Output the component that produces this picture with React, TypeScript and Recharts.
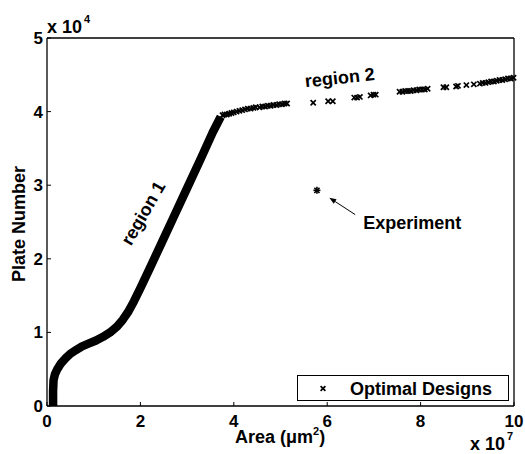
import React from 'react';
import { ComposedChart, Line, Scatter, XAxis, YAxis, ReferenceLine, ReferenceDot, Legend } from 'recharts';

// region 1: dense optimal designs, drawn as a thick band
const curveX = [0.13, 0.13, 0.14, 0.17, 0.22, 0.3, 0.4, 0.5, 0.62, 0.75, 0.9, 1.05, 1.2, 1.35, 1.5, 1.62, 1.74, 1.86, 2.0, 2.2, 2.45, 2.7, 3.0, 3.3, 3.55, 3.72];
const curveY = [0.0, 0.2, 0.35, 0.43, 0.5, 0.58, 0.65, 0.71, 0.76, 0.81, 0.85, 0.89, 0.94, 1.0, 1.08, 1.17, 1.28, 1.42, 1.6, 1.87, 2.21, 2.55, 2.96, 3.37, 3.72, 3.93];

// region 2: sparse optimal designs
const region2X = [
  3.76, 3.8, 3.85, 3.9, 3.95, 4.0, 4.06, 4.12, 4.18, 4.24, 4.3, 4.36, 4.42, 4.47,
  4.55, 4.61, 4.67, 4.73, 4.79, 4.85, 4.91, 4.97, 5.03, 5.09, 5.14,
  5.7, 6.02, 6.12, 6.58, 6.64, 6.7, 6.93, 6.99, 7.04,
  7.55, 7.61, 7.67, 7.73, 7.79, 7.85, 7.91, 7.97, 8.03, 8.09, 8.15,
  8.49, 8.55, 8.76, 8.8, 8.98, 9.14,
  9.27, 9.33, 9.39, 9.45, 9.51, 9.57, 9.63, 9.69, 9.75, 9.81, 9.87, 9.93, 9.99,
];
const region2Y = [
  3.95, 3.96, 3.96, 3.97, 3.98, 3.99, 4.0, 4.01, 4.02, 4.03, 4.04, 4.04, 4.05, 4.06,
  4.06, 4.07, 4.07, 4.08, 4.08, 4.09, 4.09, 4.1, 4.1, 4.11, 4.11,
  4.12, 4.14, 4.14, 4.19, 4.19, 4.2, 4.22, 4.23, 4.23,
  4.27, 4.27, 4.28, 4.28, 4.28, 4.29, 4.29, 4.3, 4.3, 4.3, 4.31,
  4.33, 4.33, 4.34, 4.35, 4.36, 4.37,
  4.38, 4.39, 4.39, 4.4, 4.41, 4.41, 4.42, 4.43, 4.43, 4.44, 4.45, 4.45, 4.46,
];

const experimentX = [5.78];
const experimentY = [2.93];

const xTicks = [0, 2, 4, 6, 8, 10];
const yTicks = [0, 1, 2, 3, 4, 5];

const curve = curveX.map((x, i) => ({ x, y: curveY[i] }));
const region2 = region2X.map((x, i) => ({ x, y: region2Y[i] }));
const experiment = experimentX.map((x, i) => ({ x, y: experimentY[i] }));

const FONT = '"Liberation Sans", Arial, Helvetica, sans-serif';
const txt = { fontFamily: FONT, fontWeight: 700, fill: '#000' } as const;

const XMark = ({ cx, cy, s = 2.6 }: any) => (
  <g stroke="#000" strokeWidth={1.7}>
    <line x1={cx - s} y1={cy - s} x2={cx + s} y2={cy + s} />
    <line x1={cx - s} y1={cy + s} x2={cx + s} y2={cy - s} />
  </g>
);

const Star = ({ cx, cy }: any) => (
  <g stroke="#000" strokeWidth={1.6}>
    <line x1={cx - 3.5} y1={cy} x2={cx + 3.5} y2={cy} />
    <line x1={cx} y1={cy - 3.5} x2={cx} y2={cy + 3.5} />
    <line x1={cx - 2.6} y1={cy - 2.6} x2={cx + 2.6} y2={cy + 2.6} />
    <line x1={cx - 2.6} y1={cy + 2.6} x2={cx + 2.6} y2={cy - 2.6} />
  </g>
);

// inward tick marks, labels outside
const BottomTick = ({ x, y, payload }: any) => (
  <g>
    <line x1={x} y1={y} x2={x} y2={y - 4} stroke="#000" />
    <text x={x} y={y + 21} textAnchor="middle" fontSize={17} style={txt}>{payload.value}</text>
  </g>
);
const LeftTick = ({ x, y, payload }: any) => (
  <g>
    <line x1={x} y1={y} x2={x + 4} y2={y} stroke="#000" />
    <text x={x - 4} y={y + 6} textAnchor="end" fontSize={17} style={txt}>{payload.value}</text>
  </g>
);
const TopTick = ({ x, y }: any) => <line x1={x} y1={y} x2={x} y2={y + 4} stroke="#000" />;
const RightTick = ({ x, y }: any) => <line x1={x} y1={y} x2={x - 4} y2={y} stroke="#000" />;

const Arrow = ({ x1, y1, x2, y2 }: any) => {
  const a = Math.atan2(y2 - y1, x2 - x1);
  const L = 7, W = 2.6;
  const bx = x2 - L * Math.cos(a), by = y2 - L * Math.sin(a);
  const px = -Math.sin(a) * W, py = Math.cos(a) * W;
  return (
    <g>
      <line x1={x1} y1={y1} x2={bx} y2={by} stroke="#000" strokeWidth={1} />
      <polygon points={`${x2},${y2} ${bx + px},${by + py} ${bx - px},${by - py}`} fill="#000" />
    </g>
  );
};

const Note = (label: string, angle: number, anchor: string = 'middle') => ({ cx, cy }: any) => (
  <text
    x={cx}
    y={cy}
    textAnchor={anchor}
    dominantBaseline="central"
    fontSize={18}
    style={txt}
    transform={`rotate(${angle} ${cx} ${cy})`}
  >
    {label}
  </text>
);

const LegendBox = () => (
  <svg width={212} height={26}>
    <rect x={0.5} y={0.5} width={211} height={25} fill="#fff" stroke="#000" />
    <XMark cx={26} cy={13.5} s={2.4} />
    <text x={53} y={20} fontSize={18} style={txt}>Optimal Designs</text>
  </svg>
);

const axisStroke = { stroke: '#000', strokeWidth: 1.3 };

export default function App() {
  return (
    <div style={{ position: 'absolute', left: 0, top: 0, width: 525, height: 454, background: '#fff' }}>
      <ComposedChart width={525} height={454} margin={{ top: 37, right: 10, bottom: 47, left: 46 }}>
        <XAxis
          dataKey="x"
          type="number"
          domain={[0, 10]}
          ticks={xTicks}
          interval={0}
          height={1}
          tickSize={0}
          tickMargin={0}
          tickLine={false}
          axisLine={axisStroke}
          tick={<BottomTick />}
        />
        <XAxis
          xAxisId="top"
          orientation="top"
          type="number"
          domain={[0, 10]}
          ticks={xTicks}
          interval={0}
          height={1}
          tickSize={0}
          tickMargin={0}
          tickLine={false}
          axisLine={axisStroke}
          tick={<TopTick />}
        />
        <YAxis
          dataKey="y"
          type="number"
          domain={[0, 5]}
          ticks={yTicks}
          interval={0}
          width={1}
          tickSize={0}
          tickMargin={0}
          tickLine={false}
          axisLine={axisStroke}
          tick={<LeftTick />}
        />
        <YAxis
          yAxisId="right"
          orientation="right"
          type="number"
          domain={[0, 5]}
          ticks={yTicks}
          interval={0}
          width={1}
          tickSize={0}
          tickMargin={0}
          tickLine={false}
          axisLine={axisStroke}
          tick={<RightTick />}
        />
        <Line
          data={curve}
          dataKey="y"
          type="linear"
          stroke="#000"
          strokeWidth={8.5}
          strokeLinejoin="round"
          dot={false}
          activeDot={false}
          isAnimationActive={false}
        />
        <Scatter data={region2} dataKey="y" shape={(p: any) => <XMark cx={p.cx} cy={p.cy} />} isAnimationActive={false} />
        <Scatter data={experiment} dataKey="y" shape={(p: any) => <Star cx={p.cx} cy={p.cy} />} isAnimationActive={false} />
        <ReferenceLine segment={[{ x: 6.6, y: 2.6 }, { x: 6.045, y: 2.83 }]} shape={(p: any) => <Arrow {...p} />} />
        <ReferenceDot x={2.06} y={2.62} r={0} shape={Note('region 1', -60)} />
        <ReferenceDot x={6.27} y={4.46} r={0} shape={Note('region 2', -6)} />
        <ReferenceDot x={6.77} y={2.49} r={0} shape={Note('Experiment', 0, 'start')} />
        <Legend
          layout="horizontal"
          verticalAlign="middle"
          align="center"
          content={() => <LegendBox />}
          wrapperStyle={{ left: 297, top: 375, width: 212, height: 26 }}
        />
      </ComposedChart>
      <svg width={525} height={454} style={{ position: 'absolute', left: 0, top: 0, pointerEvents: 'none' }}>
        <text x={47} y={33} fontSize={18} style={txt}>x 10</text>
        <text x={84} y={23} fontSize={11} style={txt}>4</text>
        <text x={470} y={450} fontSize={18} style={txt}>x 10</text>
        <text x={507} y={440} fontSize={11} style={txt}>7</text>
        <text x={235} y={443} fontSize={18} style={txt}>
          Area (μm<tspan dy={-8} fontSize={11}>2</tspan><tspan dy={8}>)</tspan>
        </text>
        <text x={25} y={224} fontSize={18} textAnchor="middle" transform="rotate(-90 25 224)" style={txt}>
          Plate Number
        </text>
      </svg>
    </div>
  );
}
